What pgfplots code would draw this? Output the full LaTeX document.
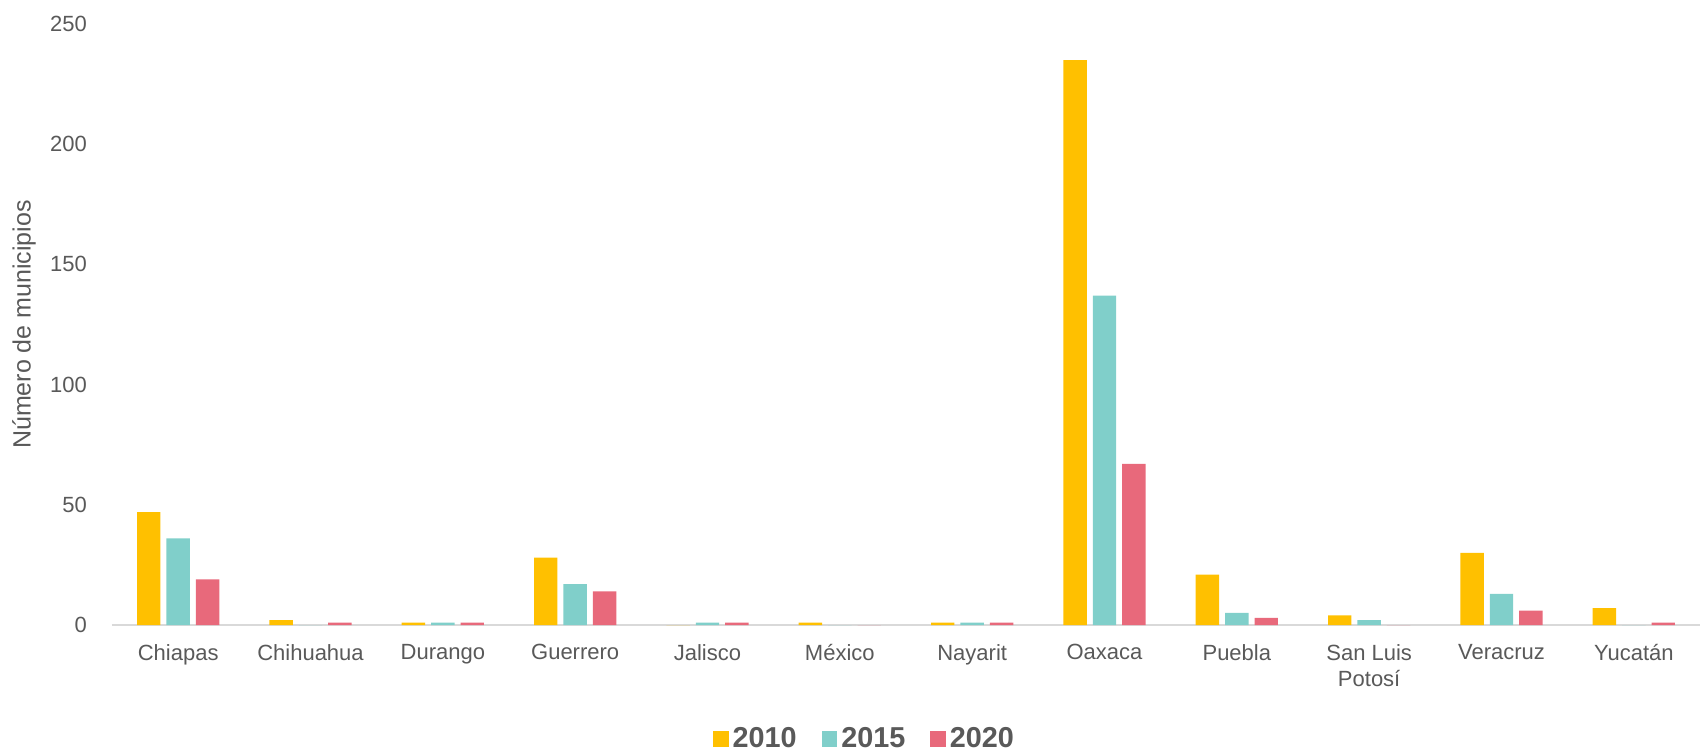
\documentclass[border=0pt]{standalone}
\usepackage{pgfplots}
\pgfplotsset{compat=1.18}
\usepackage{fontspec}
\setmainfont{Liberation Sans}
\definecolor{c10}{HTML}{FFC000}
\definecolor{c15}{HTML}{80CFCA}
\definecolor{c20}{HTML}{E8697B}
\definecolor{txt}{HTML}{595959}
\definecolor{axl}{HTML}{D9D9D9}
\begin{document}
\begin{tikzpicture}
\useasboundingbox (-56pt,-63.5pt) rectangle (795pt,312.5pt);
\begin{axis}[
  at={(0pt,0pt)}, anchor=south west,
  scale only axis, width=794pt, height=300.5pt,
  ybar=3pt, bar width=11.7pt,
  xmin=-0.5, xmax=11.5, ymin=0, ymax=250,
  xtick=data,
  xticklabels={Chiapas,Chihuahua,Durango,Guerrero,Jalisco,México,Nayarit,Oaxaca,Puebla,{San Luis\\Potosí},Veracruz,Yucatán},
  ytick={0,50,100,150,200,250},
  axis x line=bottom, axis y line=left,
  x axis line style={draw=axl, line width=1.3pt, -},
  y axis line style={draw=none},
  major tick length=0pt,
  tick style={draw=none},
  /pgf/number format/assume math mode=true,
  ticklabel style={font=\fontsize{11}{13}\selectfont, text=txt},
  xticklabel style={align=center, yshift=-6pt},
  yticklabel style={xshift=-9pt},
  ylabel={Número de municipios},
  ylabel style={at={(axis description cs:-0.0554,0.5)}, anchor=center, font=\fontsize{12.5}{14}\selectfont, text=txt},
  legend columns=3,
  legend style={draw=none, at={(axis description cs:0.4745,-0.19)}, anchor=center,
    font=\fontsize{14.4}{16}\selectfont\bfseries, text=txt,
    /tikz/every even column/.append style={column sep=10.5pt}},
  legend image code/.code={\fill[#1] (0pt,-3.9pt) rectangle (7.8pt,3.9pt);},
]
\addplot[fill=c10, draw=none] coordinates {(0,47) (1,2) (2,1) (3,28) (4,0) (5,1) (6,1) (7,235) (8,21) (9,4) (10,30) (11,7)};
\addplot[fill=c15, draw=none] coordinates {(0,36) (1,0) (2,1) (3,17) (4,1) (5,0) (6,1) (7,137) (8,5) (9,2) (10,13) (11,0)};
\addplot[fill=c20, draw=none] coordinates {(0,19) (1,1) (2,1) (3,14) (4,1) (5,0) (6,1) (7,67) (8,3) (9,0) (10,6) (11,1)};
\legend{2010,2015,2020}
\end{axis}
\end{tikzpicture}
\end{document}
